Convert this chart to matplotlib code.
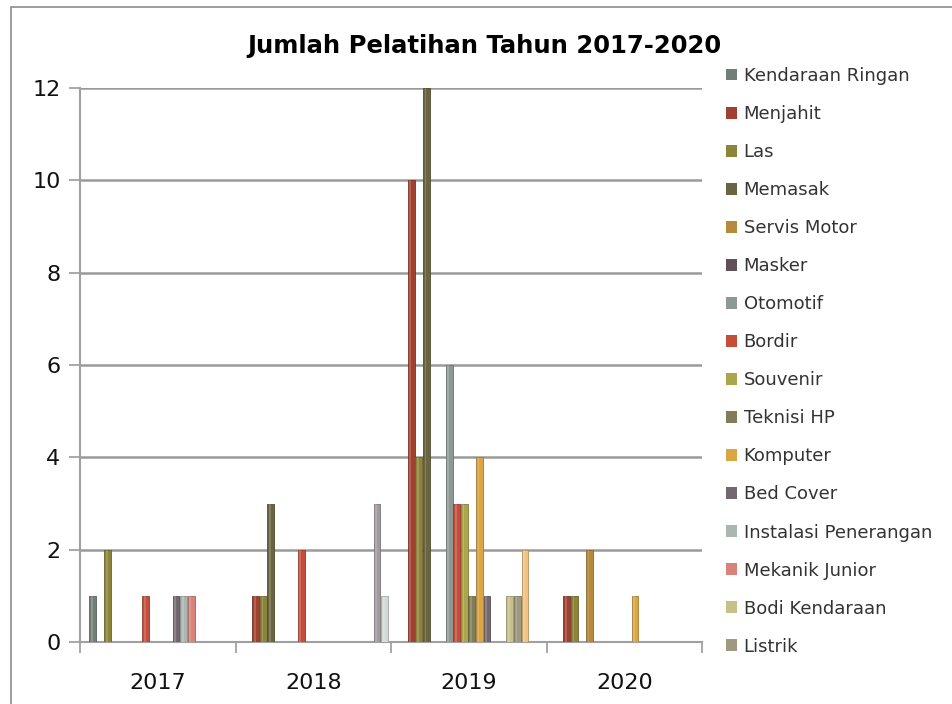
import numpy as np
import matplotlib
matplotlib.use('Agg')
import matplotlib.pyplot as plt
from matplotlib.patches import Patch, Rectangle

plt.rcParams['font.family'] = ['DejaVu Sans']

# data
tahun = ['2017', '2018', '2019', '2020']
pelatihan = ['Kendaraan Ringan', 'Menjahit', 'Las', 'Memasak', 'Servis Motor', 'Masker',
             'Otomotif', 'Bordir', 'Souvenir', 'Teknisi HP', 'Komputer', 'Bed Cover',
             'Instalasi Penerangan', 'Mekanik Junior', 'Bodi Kendaraan', 'Listrik',
             'Seri 17', 'Seri 18', 'Seri 19']   # last three are cut off from the legend
kendaraan_ringan = [1, 0, 0, 0]
menjahit = [0, 1, 10, 1]
las = [2, 1, 4, 1]
memasak = [0, 3, 12, 0]
servis_motor = [0, 0, 0, 2]
masker = [0, 0, 0, 0]
otomotif = [0, 0, 6, 0]
bordir = [1, 2, 3, 0]
souvenir = [0, 0, 3, 0]
teknisi_hp = [0, 0, 1, 0]
komputer = [0, 0, 4, 1]
bed_cover = [1, 0, 1, 0]
instalasi = [1, 0, 0, 0]
mekanik_junior = [1, 0, 0, 0]
bodi_kendaraan = [0, 0, 1, 0]
listrik = [0, 0, 1, 0]
seri_17 = [0, 0, 2, 0]
seri_18 = [0, 3, 0, 0]
seri_19 = [0, 1, 0, 0]

nilai = [kendaraan_ringan, menjahit, las, memasak, servis_motor, masker, otomotif, bordir,
         souvenir, teknisi_hp, komputer, bed_cover, instalasi, mekanik_junior,
         bodi_kendaraan, listrik, seri_17, seri_18, seri_19]

warna = ['#727F79', '#A0402F', '#8B8439', '#696540', '#B8893A', '#5F5158',
         '#8E9994', '#C44E3A', '#ABA64B', '#817D59', '#DBA541', '#746870',
         '#ABB6B1', '#D8827A', '#C6C08A', '#9E9A80', '#F2C27F', '#A29AA0', '#D3DAD6']

fig = plt.figure(figsize=(9.52, 7.04), dpi=100)
ax = fig.add_axes([80/952, 62/704, 622/952, 554/704])

n = len(pelatihan)
slot = 1.0 / (n + 1.5)
x = np.arange(len(tahun))
for i, (nama, v) in enumerate(zip(pelatihan, nilai)):
    v = np.array(v, dtype=float)
    pos = x + (i - (n - 1) / 2) * slot + 0.02
    m = v > 0
    ax.bar(pos[m], v[m], width=slot * 0.9, color=warna[i],
           edgecolor=matplotlib.colors.to_rgba(warna[i]) * np.array([0.75, 0.75, 0.75, 1]),
           linewidth=0.6, zorder=3)
    # light stripe for the cylinder look
    ax.bar(pos[m] - slot * 0.12, v[m], width=slot * 0.22, color='white', alpha=0.18,
           linewidth=0, zorder=4)

ax.set_xlim(-0.5, len(tahun) - 0.5)
ax.set_ylim(0, 12)
ax.set_yticks(range(0, 13, 2))
ax.set_xticks(x)
ax.set_xticklabels(tahun)
ax.set_xticks(np.arange(len(tahun) + 1) - 0.5, minor=True)
ax.tick_params(axis='x', which='major', length=0, labelsize=16, pad=22, labelcolor='#111111')
ax.tick_params(axis='x', which='minor', length=8, color='#999999', width=1.2)
ax.tick_params(axis='y', length=8, color='#999999', width=1.2, labelsize=16, pad=6,
               labelcolor='#111111')

ax.yaxis.grid(True, color='#9a9a9a', linewidth=1.8, zorder=0)
ax.set_axisbelow(True)
for s in ['top', 'right']:
    ax.spines[s].set_visible(False)
for s in ['left', 'bottom']:
    ax.spines[s].set_color('#a0a0a0')
    ax.spines[s].set_linewidth(1.5)

fig.text(484/952, 1 - 46/704, 'Jumlah Pelatihan Tahun 2017-2020', ha='center', va='center',
         fontsize=17.5, fontweight='bold')

handles = [Patch(facecolor=warna[i], edgecolor='none') for i in range(16)]
fig.legend(handles, pelatihan[:16], loc='upper left', bbox_to_anchor=(726/952, 1 - 67/704),
           frameon=False, fontsize=13, handlelength=0.62, handleheight=0.62,
           handletextpad=0.35, labelspacing=1.11, borderpad=0, borderaxespad=0,
           labelcolor='#333333')

fig.patches.append(Rectangle((11/952, -0.1), 1.2, 1.1 - 7/704, transform=fig.transFigure,
                             fill=False, edgecolor='#8c8c8c', linewidth=1.2))

fig.savefig('out.png', dpi=100)
